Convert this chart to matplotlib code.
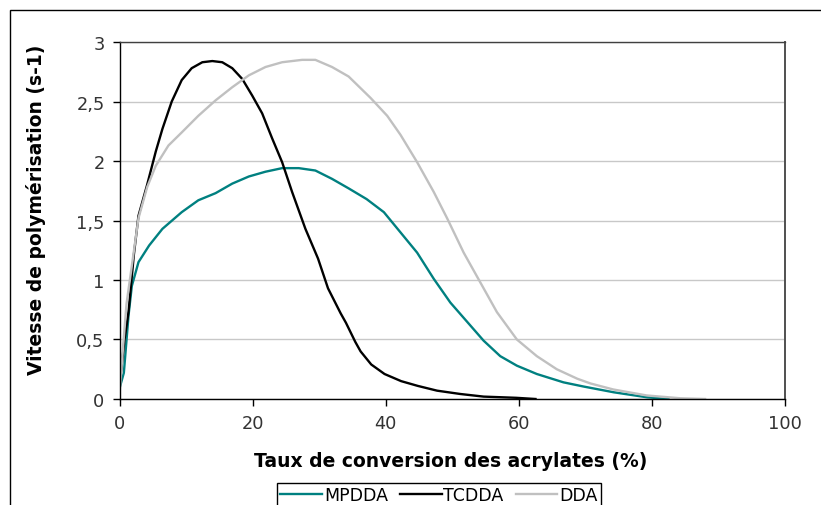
import matplotlib
import matplotlib.pyplot as plt
from matplotlib.patches import Rectangle

matplotlib.use("Agg")

# conversion (%) / rate (s-1)
mpdda_x = [0.0, 0.6, 1.3, 1.8, 2.8, 4.4, 6.4, 9.3, 11.8, 14.4, 16.9, 19.4, 21.9,
           24.4, 26.9, 29.4, 31.9, 34.4, 37.1, 39.7, 42.2, 44.7, 47.2, 49.7,
           52.2, 54.7, 57.2, 59.7, 62.7, 66.7, 69.7, 74.3, 79.3, 82.5]
mpdda_y = [0.1, 0.22, 0.70, 0.95, 1.15, 1.29, 1.43, 1.57, 1.67, 1.73, 1.81, 1.87,
           1.91, 1.94, 1.94, 1.92, 1.85, 1.77, 1.68, 1.57, 1.40, 1.23, 1.01, 0.81,
           0.65, 0.49, 0.36, 0.28, 0.21, 0.14, 0.105, 0.056, 0.014, 0.0]

tcdda_x = [0.0, 0.7, 1.3, 2.1, 2.8, 4.1, 5.4, 6.4, 7.8, 9.3, 10.8, 12.4, 13.9,
           15.4, 16.9, 18.4, 19.9, 21.4, 22.9, 24.4, 25.9, 27.9, 29.8, 31.3,
           33.2, 34.0, 34.7, 35.4, 36.2, 37.8, 39.8, 42.3, 44.8, 47.7, 51.2,
           54.7, 59.6, 62.5]
tcdda_y = [0.14, 0.5, 0.73, 1.21, 1.54, 1.80, 2.08, 2.27, 2.50, 2.68, 2.78, 2.83,
           2.84, 2.83, 2.78, 2.69, 2.55, 2.40, 2.19, 1.99, 1.74, 1.43, 1.18, 0.93,
           0.72, 0.64, 0.56, 0.48, 0.40, 0.29, 0.21, 0.15, 0.11, 0.07, 0.042,
           0.02, 0.01, 0.0]

dda_x = [0.0, 0.5, 1.0, 1.8, 2.8, 4.1, 5.4, 7.3, 9.3, 11.8, 14.4, 16.9, 19.4,
         21.9, 24.4, 27.4, 29.4, 31.9, 34.4, 37.7, 40.2, 42.2, 44.7, 47.2, 49.2,
         51.7, 54.2, 56.7, 59.7, 62.7, 65.7, 68.8, 70.8, 74.2, 79.2, 84.3, 88.0]
dda_y = [0.08, 0.45, 0.8, 1.12, 1.52, 1.78, 1.96, 2.13, 2.24, 2.38, 2.51, 2.62,
         2.72, 2.79, 2.83, 2.85, 2.85, 2.79, 2.71, 2.53, 2.38, 2.22, 1.99, 1.74,
         1.52, 1.23, 0.98, 0.73, 0.50, 0.36, 0.25, 0.17, 0.13, 0.08, 0.03, 0.006, 0.0]

x_ticks = [0, 20, 40, 60, 80, 100]
y_ticks = [0, 0.5, 1, 1.5, 2, 2.5, 3]
y_tick_labels = ["0", "0,5", "1", "1,5", "2", "2,5", "3"]

plt.rcParams["font.family"] = ["DejaVu Sans"]

fig = plt.figure(figsize=(8.21, 5.06), dpi=100)
ax = fig.add_axes([0.146, 0.2095, 0.81, 0.7055])

# outer chart frame (only top and left edges are visible in the reference)
fig.patches.append(Rectangle((10 / 821, -0.2), 1.2, 1.2 - 11 / 506,
                             transform=fig.transFigure, fill=False,
                             edgecolor="black", linewidth=1.0, zorder=0))

ax.plot(mpdda_x, mpdda_y, color="#008080", linewidth=1.7, label="MPDDA")
ax.plot(tcdda_x, tcdda_y, color="black", linewidth=1.7, label="TCDDA")
ax.plot(dda_x, dda_y, color="#c0c0c0", linewidth=1.7, label="DDA")

ax.set_xlim(0, 100)
ax.set_ylim(0, 3)
ax.set_xticks(x_ticks)
ax.set_yticks(y_ticks)
ax.set_yticklabels(y_tick_labels)
ax.tick_params(direction="out", length=5, width=1, labelsize=12.8, color="black",
               labelcolor="#333333", pad=6)
ax.yaxis.grid(True, color="#c8c8c8", linewidth=1)
ax.set_axisbelow(True)

for side in ("left", "bottom"):
    ax.spines[side].set_color("black")
    ax.spines[side].set_linewidth(1)
ax.spines["top"].set_color("#404040")
ax.spines["top"].set_linewidth(1)
ax.spines["right"].set_color("#505050")
ax.spines["right"].set_linewidth(1.4)

ax.set_xlabel("Taux de conversion des acrylates (%)", fontsize=13.5,
              fontweight="bold")
ax.set_ylabel("Vitesse de polymérisation (s-1)", fontsize=13.5,
              fontweight="bold")
ax.xaxis.set_label_coords(0.497, -0.171)
ax.xaxis.label.set_va("center")
ax.yaxis.set_label_coords(-0.126, 0.532)
ax.yaxis.label.set_va("center")

# legend box runs off the bottom edge, as in the reference
fig.legend(loc="upper center", bbox_to_anchor=(439 / 821, 1 - 484 / 506), ncol=3,
           fontsize=12.5, frameon=True, fancybox=False, edgecolor="black",
           handlelength=2.4, handletextpad=0.1, columnspacing=0.7,
           borderpad=0.2, borderaxespad=0, framealpha=1)

fig.savefig("out.png", dpi=100)
